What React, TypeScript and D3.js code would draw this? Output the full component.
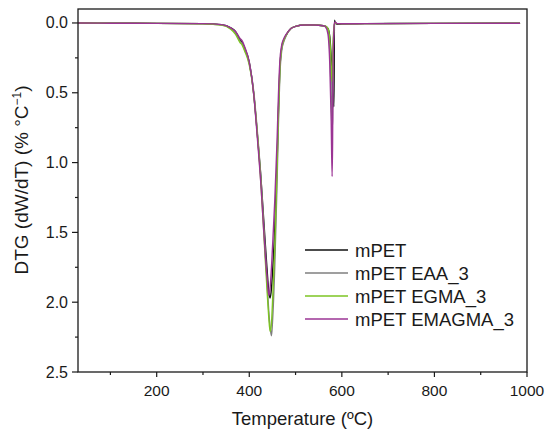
import * as d3 from 'd3';

// temperature grid (°C) shared by all runs
const temps = [
  30, 100, 200, 300, 340, 360, 370, 380, 385, 390,
  400, 410, 415, 420, 425, 430, 435, 440, 442, 445,
  448, 450, 455, 460, 463, 466, 470, 475, 480, 490,
  500, 520, 540, 560, 565, 570, 574, 577, 579, 580,
  581, 583, 584, 586, 590, 600, 650, 800, 985,
];

const mPET = [
  0, 0.002, 0.003, 0.005, 0.012, 0.035, 0.06, 0.12, 0.14, 0.18,
  0.28, 0.52, 0.7, 0.9, 1.1, 1.35, 1.6, 1.84, 1.92, 1.97,
  1.9, 1.8, 1.48, 1.0, 0.62, 0.33, 0.18, 0.12, 0.085, 0.04,
  0.025, 0.015, 0.015, 0.02, 0.025, 0.04, 0.1, 0.25, 0.4, 0.5,
  0.55, 0.6, -0.02, 0.0, 0.01, 0.008, 0.005, 0.003, 0.002,
];

const mPET_EAA = [
  0, 0.002, 0.003, 0.006, 0.014, 0.04, 0.07, 0.13, 0.15, 0.19,
  0.29, 0.5, 0.68, 0.88, 1.1, 1.38, 1.66, 1.95, 2.06, 2.18,
  2.24, 2.15, 1.75, 1.15, 0.72, 0.38, 0.2, 0.13, 0.09, 0.04,
  0.025, 0.015, 0.015, 0.02, 0.025, 0.05, 0.2, 0.5, 0.75, 0.7,
  0.3, 0.05, 0.01, 0.0, 0.005, 0.006, 0.005, 0.003, 0.002,
];

const mPET_EGMA = [
  0, 0.002, 0.003, 0.006, 0.015, 0.045, 0.08, 0.14, 0.16, 0.2,
  0.3, 0.52, 0.7, 0.9, 1.14, 1.42, 1.72, 2.0, 2.1, 2.21,
  2.15, 2.02, 1.62, 1.05, 0.65, 0.34, 0.18, 0.12, 0.085, 0.04,
  0.025, 0.015, 0.015, 0.02, 0.025, 0.04, 0.12, 0.3, 0.42, 0.38,
  0.15, 0.03, 0.01, 0.0, 0.005, 0.006, 0.005, 0.003, 0.002,
];

const mPET_EMAGMA = [
  0, 0.002, 0.003, 0.005, 0.012, 0.035, 0.06, 0.11, 0.13, 0.17,
  0.28, 0.52, 0.72, 0.93, 1.15, 1.42, 1.68, 1.88, 1.95, 1.9,
  1.75, 1.62, 1.28, 0.85, 0.52, 0.28, 0.16, 0.11, 0.08, 0.04,
  0.025, 0.015, 0.015, 0.02, 0.03, 0.08, 0.3, 0.7, 1.1, 0.85,
  0.3, 0.04, 0.0, -0.005, 0.005, 0.006, 0.005, 0.003, 0.002,
];

const seriesNames = ['mPET', 'mPET EAA_3', 'mPET EGMA_3', 'mPET EMAGMA_3'];
const seriesValues = [mPET, mPET_EAA, mPET_EGMA, mPET_EMAGMA];
const seriesColors = ['#111111', '#7f7f7f', '#7dc423', '#9b3494'];

const xTicks = [200, 400, 600, 800, 1000];
const xMinorTicks = [100, 300, 500, 700, 900];
const yTicks = [0, 0.5, 1.0, 1.5, 2.0, 2.5];
const yMinorTicks = [0.25, 0.75, 1.25, 1.75, 2.25];

const width = 550;
const height = 435;
const margin = { top: 9, right: 23, bottom: 63, left: 78 };
const font = 'Arial, "Liberation Sans", sans-serif';

export default function App() {
  const x = d3
    .scaleLinear()
    .domain([30, 1000])
    .range([margin.left, width - margin.right]);
  const y = d3
    .scaleLinear()
    .domain([-0.1, 2.5])
    .range([margin.top, height - margin.bottom]);

  const line = d3
    .line<number>()
    .x((d, i) => x(temps[i]))
    .y((d) => y(d))
    .curve(d3.curveMonotoneX);

  const plotBottom = height - margin.bottom;
  const plotRight = width - margin.right;

  return (
    <svg
      width={width}
      height={height}
      style={{ position: 'absolute', left: 0, top: 0, background: '#fff' }}
      fontFamily={font}
    >
      <rect x={0} y={0} width={width} height={height} fill="#fff" />

      {seriesValues.map((vals, i) => (
        <path
          key={seriesNames[i]}
          d={line(vals) || ''}
          fill="none"
          stroke={seriesColors[i]}
          strokeWidth={1.4}
          strokeLinejoin="round"
        />
      ))}

      {/* frame */}
      <rect
        x={margin.left}
        y={margin.top}
        width={plotRight - margin.left}
        height={plotBottom - margin.top}
        fill="none"
        stroke="#1a1a1a"
        strokeWidth={1.3}
      />

      {/* x axis ticks */}
      {xTicks.map((t) => (
        <g key={`x${t}`}>
          <line x1={x(t)} x2={x(t)} y1={plotBottom} y2={plotBottom + 5} stroke="#1a1a1a" strokeWidth={1.2} />
          <text x={x(t)} y={plotBottom + 24} textAnchor="middle" fontSize={15.5} fill="#1a1a1a">
            {t}
          </text>
        </g>
      ))}
      {xMinorTicks.map((t) => (
        <line key={`xm${t}`} x1={x(t)} x2={x(t)} y1={plotBottom} y2={plotBottom + 3} stroke="#1a1a1a" strokeWidth={1.2} />
      ))}

      {/* y axis ticks */}
      {yTicks.map((t) => (
        <g key={`y${t}`}>
          <line x1={margin.left - 6} x2={margin.left} y1={y(t)} y2={y(t)} stroke="#1a1a1a" strokeWidth={1.2} />
          <text x={margin.left - 10} y={y(t) + 5.5} textAnchor="end" fontSize={16} fill="#1a1a1a">
            {t.toFixed(1)}
          </text>
        </g>
      ))}
      {yMinorTicks.map((t) => (
        <line key={`ym${t}`} x1={margin.left - 3} x2={margin.left} y1={y(t)} y2={y(t)} stroke="#1a1a1a" strokeWidth={1.2} />
      ))}

      {/* axis titles */}
      <text x={(margin.left + plotRight) / 2} y={425} textAnchor="middle" fontSize={18.5} fill="#1a1a1a">
        Temperature (ºC)
      </text>
      <text
        transform={`translate(28, 180) rotate(-90)`}
        textAnchor="middle"
        fontSize={19}
        fill="#1a1a1a"
      >
        DTG (dW/dT) (% °C
        <tspan dy={-7} fontSize={12}>−1</tspan>
        <tspan dy={7}>)</tspan>
      </text>

      {/* legend */}
      {seriesNames.map((name, i) => (
        <g key={`lg${name}`} transform={`translate(305, ${250 + i * 23})`}>
          <line x1={0} x2={43} y1={0} y2={0} stroke={seriesColors[i]} strokeWidth={1.6} />
          <text x={50} y={6.5} fontSize={18.5} fill="#1a1a1a">
            {name}
          </text>
        </g>
      ))}
    </svg>
  );
}
